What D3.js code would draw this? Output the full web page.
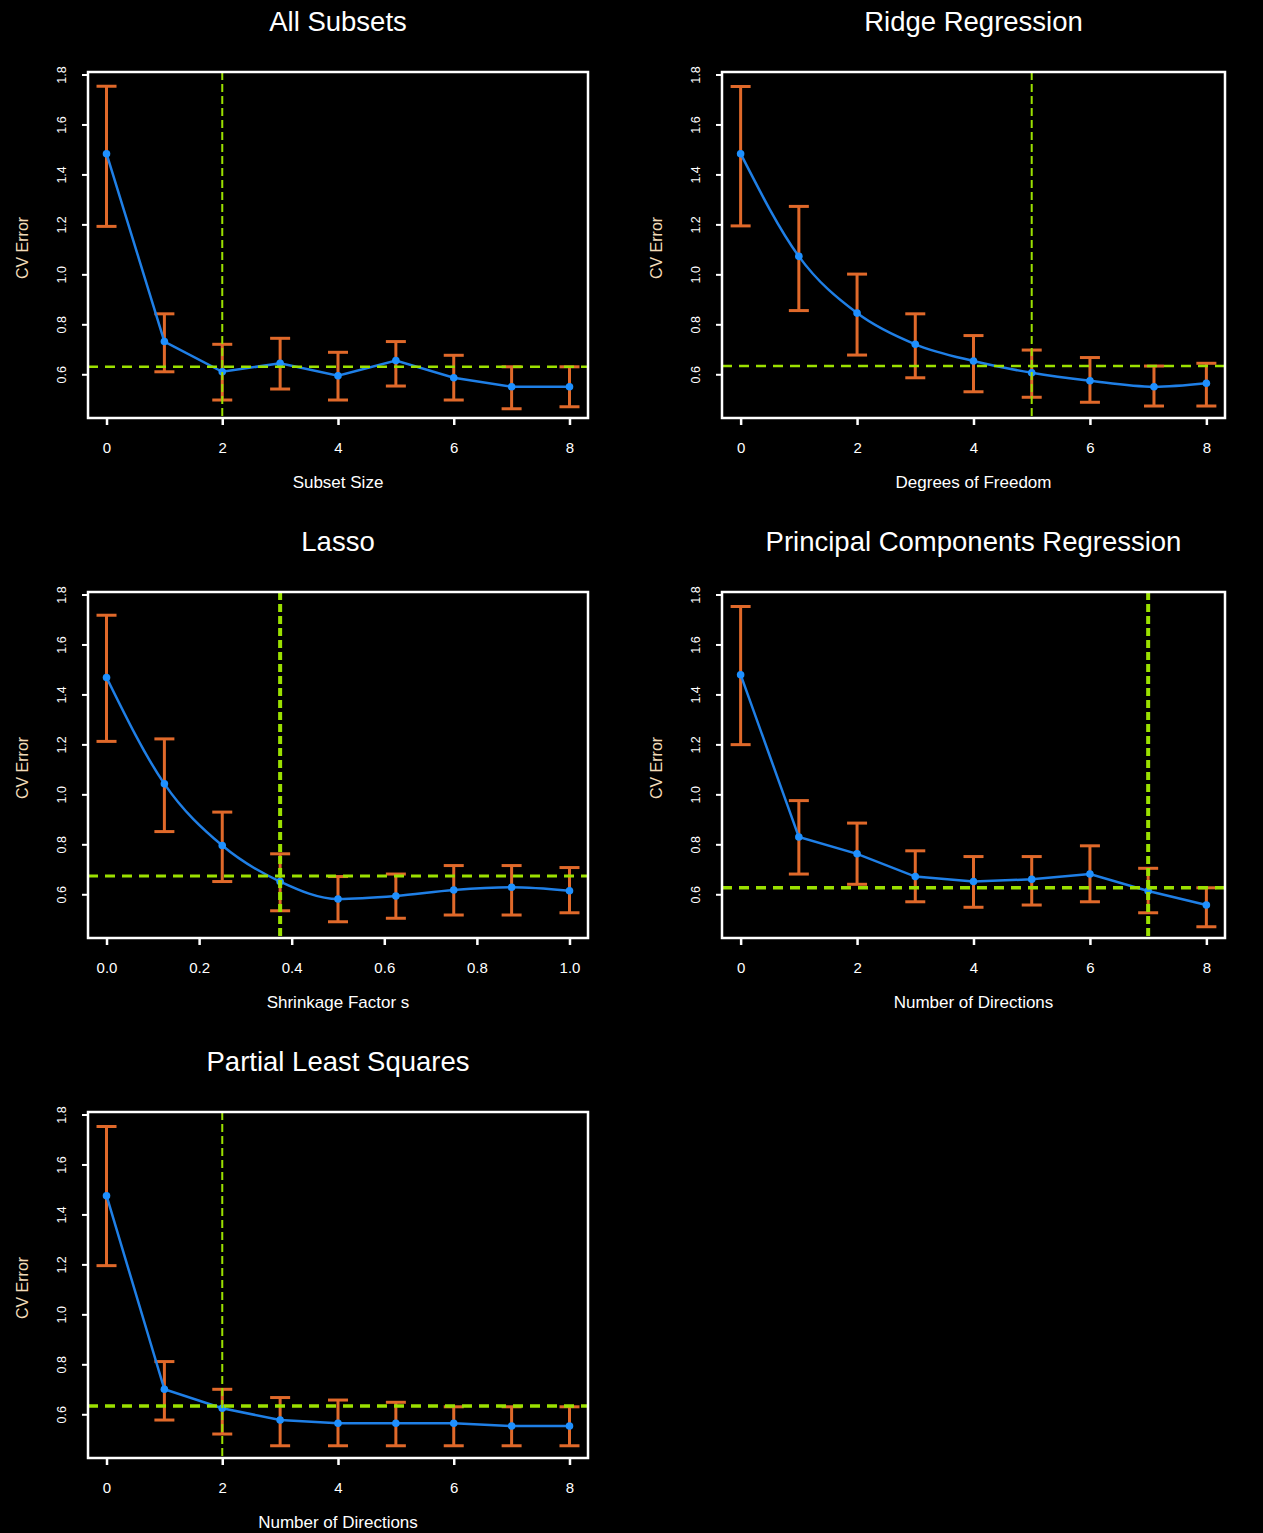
<!DOCTYPE html>
<html>
<head>
<meta charset="utf-8">
<script src="https://cdn.jsdelivr.net/npm/d3@7"></script>
<style>
  html, body { margin: 0; padding: 0; background: #000; }
  svg { display: block; }
  text { font-family: "Liberation Sans", Arial, sans-serif; }
</style>
</head>
<body>
<svg id="chart" width="1263" height="1533"></svg>
<script>
// ---------- Data ----------
const titles = ["All Subsets", "Ridge Regression", "Lasso", "Principal Components Regression", "Partial Least Squares"];
const xLabels = ["Subset Size", "Degrees of Freedom", "Shrinkage Factor s", "Number of Directions", "Number of  Directions"];
const yLabel = "CV Error";

const intTicks = [0, 2, 4, 6, 8];
const lassoTicks = [0.0, 0.2, 0.4, 0.6, 0.8, 1.0];
const yTicks = [0.6, 0.8, 1.0, 1.2, 1.4, 1.6, 1.8];

const subsetX  = [0, 1, 2, 3, 4, 5, 6, 7, 8];
const subsetCV = [1.483, 0.731, 0.610, 0.644, 0.594, 0.655, 0.586, 0.550, 0.550];
const subsetHi = [1.753, 0.842, 0.720, 0.744, 0.688, 0.731, 0.676, 0.630, 0.630];
const subsetLo = [1.192, 0.610, 0.497, 0.541, 0.497, 0.553, 0.497, 0.462, 0.470];

const ridgeX  = [0, 1, 2, 3, 4, 5, 6, 7.1, 8];
const ridgeCV = [1.483, 1.072, 0.845, 0.720, 0.653, 0.606, 0.574, 0.550, 0.564];
const ridgeHi = [1.752, 1.272, 1.001, 0.842, 0.755, 0.697, 0.667, 0.633, 0.644];
const ridgeLo = [1.194, 0.855, 0.677, 0.586, 0.530, 0.508, 0.488, 0.473, 0.473];

const lassoX  = [0, 0.125, 0.25, 0.375, 0.5, 0.625, 0.75, 0.875, 1.0];
const lassoCV = [1.468, 1.042, 0.795, 0.651, 0.581, 0.593, 0.617, 0.628, 0.614];
const lassoHi = [1.717, 1.222, 0.929, 0.762, 0.671, 0.681, 0.715, 0.715, 0.707];
const lassoLo = [1.212, 0.851, 0.651, 0.534, 0.490, 0.504, 0.517, 0.517, 0.526];

const pcrX  = [0, 1, 2, 3, 4, 5, 6, 7, 8];
const pcrCV = [1.479, 0.829, 0.762, 0.671, 0.651, 0.660, 0.681, 0.613, 0.557];
const pcrHi = [1.752, 0.975, 0.885, 0.774, 0.751, 0.751, 0.794, 0.704, 0.626];
const pcrLo = [1.199, 0.681, 0.640, 0.570, 0.548, 0.557, 0.570, 0.526, 0.470];

const plsX  = [0, 1, 2, 3, 4, 5, 6, 7, 8];
const plsCV = [1.475, 0.700, 0.624, 0.577, 0.564, 0.564, 0.564, 0.553, 0.553];
const plsHi = [1.752, 0.811, 0.700, 0.667, 0.657, 0.648, 0.630, 0.630, 0.630];
const plsLo = [1.195, 0.577, 0.521, 0.474, 0.474, 0.474, 0.474, 0.474, 0.474];

const chosenX  = [2, 5, 0.375, 7, 2];
const oneSeLine = [0.630, 0.633, 0.673, 0.626, 0.633];

// ---------- Layout ----------
const W = 1263, H = 1533;
const svg = d3.select("#chart");
svg.append("rect").attr("width", W).attr("height", H).attr("fill", "#000");

const colLeft = [88, 722], colWidth = [500, 503];
const rowTop = [72, 592, 1112], boxH = 346;
const colors = { bar: "#e0692a", line: "#1f7fe6", pt: "#1e90ff", green: "#9be000" };

const panels = [
  { x: subsetX, cv: subsetCV, hi: subsetHi, lo: subsetLo, dom: [0, 8], ticks: intTicks, fmt: d3.format("d"), curve: d3.curveLinear, col: 0, row: 0, vw: 2, hw: 2.5 },
  { x: ridgeX, cv: ridgeCV, hi: ridgeHi, lo: ridgeLo, dom: [0, 8], ticks: intTicks, fmt: d3.format("d"), curve: d3.curveMonotoneX, col: 1, row: 0, vw: 2, hw: 2.5 },
  { x: lassoX, cv: lassoCV, hi: lassoHi, lo: lassoLo, dom: [0, 1], ticks: lassoTicks, fmt: d3.format(".1f"), curve: d3.curveMonotoneX, col: 0, row: 1, vw: 4, hw: 3 },
  { x: pcrX, cv: pcrCV, hi: pcrHi, lo: pcrLo, dom: [0, 8], ticks: intTicks, fmt: d3.format("d"), curve: d3.curveLinear, col: 1, row: 1, vw: 4, hw: 3.5 },
  { x: plsX, cv: plsCV, hi: plsHi, lo: plsLo, dom: [0, 8], ticks: intTicks, fmt: d3.format("d"), curve: d3.curveLinear, col: 0, row: 2, vw: 2, hw: 3.5 }
];

panels.forEach((p, i) => {
  const left = colLeft[p.col], top = rowTop[p.row], bw = colWidth[p.col];
  const ext = (p.dom[1] - p.dom[0]) * 0.04;
  const x = d3.scaleLinear().domain([p.dom[0] - ext, p.dom[1] + ext]).range([left, left + bw]);
  const y = d3.scaleLinear().domain([0.425, 1.81]).range([top + boxH, top]);
  const g = svg.append("g");

  // title
  g.append("text").attr("x", left + bw / 2).attr("y", top - 41)
    .attr("text-anchor", "middle").attr("fill", "#fff").attr("font-size", 27.5).text(titles[i]);

  // axes
  const xa = g.append("g").attr("transform", `translate(0,${top + boxH})`)
    .call(d3.axisBottom(x).tickValues(p.ticks).tickFormat(p.fmt).tickSize(7).tickPadding(17));
  xa.select(".domain").remove();
  xa.selectAll("line").attr("stroke", "#fff").attr("stroke-width", 2.5);
  xa.selectAll("text").attr("fill", "#fff").attr("font-size", 15).attr("font-family", "Liberation Sans, Arial, sans-serif");

  const ya = g.append("g").attr("transform", `translate(${left},0)`)
    .call(d3.axisLeft(y).tickValues(yTicks).tickFormat(d3.format(".1f")).tickSize(6));
  ya.select(".domain").remove();
  ya.selectAll("line").attr("stroke", "#fff").attr("stroke-width", 2);
  ya.selectAll("text").attr("fill", "#fff").attr("font-size", 12.5)
    .attr("font-family", "Liberation Sans, Arial, sans-serif")
    .attr("x", null).attr("dy", null)
    .attr("text-anchor", "middle")
    .attr("transform", "translate(-22,0) rotate(-90)");

  // axis labels
  g.append("text").attr("x", left + bw / 2).attr("y", top + boxH + 70)
    .attr("text-anchor", "middle").attr("fill", "#fff").attr("font-size", 17).text(xLabels[i]);
  g.append("text").attr("transform", `translate(${left - 60},${top + boxH / 2 + 3}) rotate(-90)`)
    .attr("text-anchor", "middle").attr("fill", "#f3dcb8").attr("font-size", 16).text(yLabel);

  // data
  const data = p.x.map((xv, k) => ({ x: xv, cv: p.cv[k], hi: p.hi[k], lo: p.lo[k] }));
  const bars = g.append("g").attr("stroke", colors.bar).attr("stroke-width", 3).attr("fill", "none");
  data.forEach(d => {
    bars.append("line").attr("x1", x(d.x)).attr("x2", x(d.x)).attr("y1", y(d.hi)).attr("y2", y(d.lo));
    bars.append("line").attr("x1", x(d.x) - 10).attr("x2", x(d.x) + 10).attr("y1", y(d.hi)).attr("y2", y(d.hi));
    bars.append("line").attr("x1", x(d.x) - 10).attr("x2", x(d.x) + 10).attr("y1", y(d.lo)).attr("y2", y(d.lo));
  });

  g.append("path").datum(data)
    .attr("d", d3.line().x(d => x(d.x)).y(d => y(d.cv)).curve(p.curve))
    .attr("fill", "none").attr("stroke", colors.line).attr("stroke-width", 2.5);
  g.selectAll("circle.pt").data(data).enter().append("circle")
    .attr("cx", d => x(d.x)).attr("cy", d => y(d.cv)).attr("r", 3.8).attr("fill", colors.pt);

  // reference lines
  g.append("line").attr("x1", left).attr("x2", left + bw)
    .attr("y1", y(oneSeLine[i])).attr("y2", y(oneSeLine[i]))
    .attr("stroke", colors.green).attr("stroke-width", p.hw).attr("stroke-dasharray", "10,7");
  g.append("line").attr("x1", x(chosenX[i])).attr("x2", x(chosenX[i]))
    .attr("y1", top).attr("y2", top + boxH)
    .attr("stroke", colors.green).attr("stroke-width", p.vw).attr("stroke-dasharray", "8,4");

  // box
  g.append("rect").attr("x", left).attr("y", top).attr("width", bw).attr("height", boxH)
    .attr("fill", "none").attr("stroke", "#fff").attr("stroke-width", 2.5);
});
</script>
</body>
</html>
